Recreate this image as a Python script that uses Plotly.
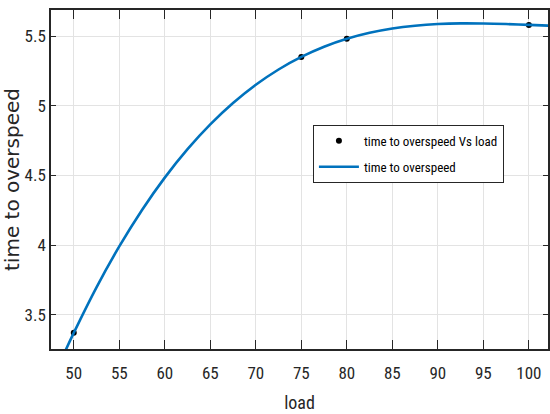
import plotly.graph_objects as go

load_pts = [50, 75, 80, 100]
time_pts = [3.37, 5.35, 5.48, 5.58]

curve_x = [49.0, 50, 52.5, 55, 57.5, 60, 62.5, 65, 67.5, 70, 72.5, 75, 77.5, 80, 82.5, 85, 87.5, 90, 92.5, 95, 97.5, 100, 102.5]
curve_y = [3.230, 3.370, 3.697, 3.990, 4.252, 4.484, 4.688, 4.866, 5.019, 5.150, 5.260, 5.350, 5.423, 5.480, 5.523, 5.554, 5.574, 5.586, 5.591, 5.590, 5.586, 5.580, 5.574]

x_ticks = [50, 55, 60, 65, 70, 75, 80, 85, 90, 95, 100]
y_ticks = [3.5, 4, 4.5, 5, 5.5]

narrow = "Roboto Condensed, Liberation Sans Narrow, sans-serif"
dark = "#262626"

fig = go.Figure()
fig.add_trace(go.Scatter(x=load_pts, y=time_pts, mode="markers",
                         marker=dict(color="black", size=6),
                         name="time to overspeed Vs load", legendgroup="a"))
fig.add_trace(go.Scatter(x=curve_x, y=curve_y, mode="lines",
                         line=dict(color="#0072BD", width=2.6, shape="spline"),
                         name="time to overspeed", legendgroup="b"))

axis_common = dict(showline=True, linecolor=dark, linewidth=1.5, mirror="ticks",
                   ticks="inside", tickcolor=dark, tickwidth=1,
                   showgrid=True, gridcolor="#e3e3e3", gridwidth=1, zeroline=False,
                   tickfont=dict(family=narrow, size=17, color=dark))

fig.update_layout(
    width=550, height=414,
    margin=dict(l=51, r=0, t=10, b=65),
    paper_bgcolor="white", plot_bgcolor="white",
    xaxis=dict(range=[47.5, 102.1], tickvals=x_ticks, ticklabelstandoff=8, ticklen=9,
               title=dict(text="load", font=dict(family=narrow, size=18, color=dark), standoff=14),
               **axis_common),
    yaxis=dict(range=[3.254, 5.687], tickvals=y_ticks, ticklen=5,
               title=dict(text="time to overspeed", font=dict(family="DejaVu Sans, sans-serif", size=20, color=dark), standoff=4),
               **axis_common),
    legend=dict(x=0.527, y=0.661, xanchor="left", yanchor="top",
                bgcolor="white", bordercolor=dark, borderwidth=1,
                font=dict(family=narrow, size=13, color="black"),
                itemwidth=40, traceorder="grouped", tracegroupgap=6),
    showlegend=True,
)

fig.write_html("out.html")
